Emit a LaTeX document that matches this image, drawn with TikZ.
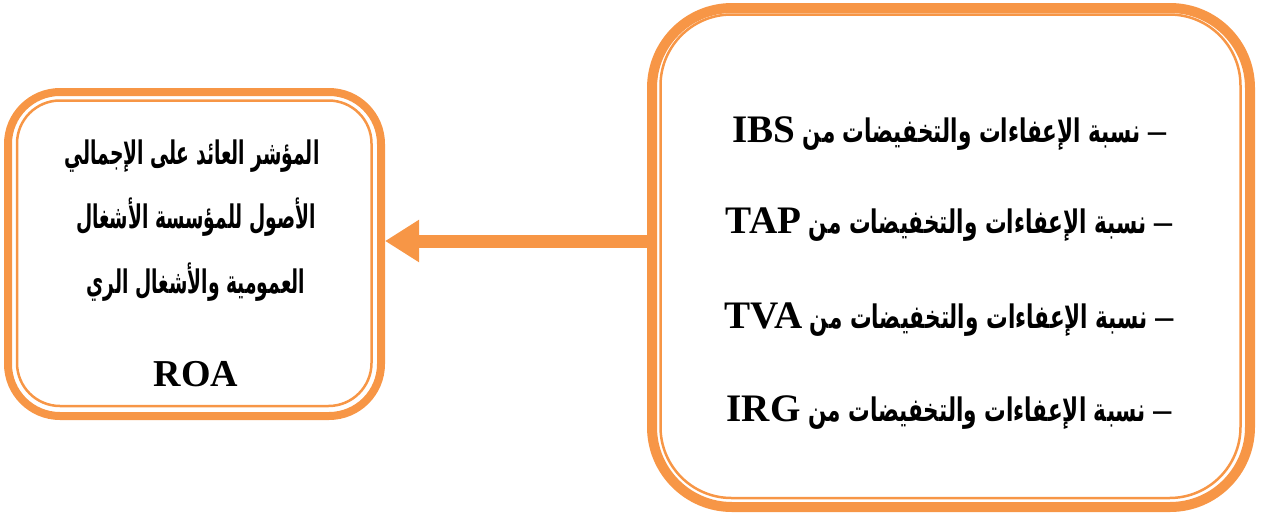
\documentclass[tikz,border=0pt]{standalone}
\usepackage{fontspec}
\usepackage{graphicx}
\setmainfont{Liberation Serif}
\newfontfamily\arabicfont[Script=Arabic]{DejaVu Sans}
\TeXXeTstate=1
\usetikzlibrary{arrows.meta}
\definecolor{accent}{HTML}{F79646}
% Latin abbreviations and the leading dash inside right-to-left lines;
% the inner scale undoes the condensing of the surrounding Arabic line
\newcommand{\lat}[1]{\beginL\scalebox{1.24}[0.82]{\rmfamily\bfseries\fontsize{38}{40}\selectfont #1}\endL}
\newcommand{\dashmark}{\beginL\scalebox{1.2}[0.8]{\rmfamily\bfseries\fontsize{36}{40}\selectfont –}\endL}
\tikzset{
  frame/.style={draw=accent, inner sep=0pt, outer sep=0pt},
  innerline/.style={draw=accent, line width=2.5pt},
  arrowline/.style={draw=accent, line width=13pt,
    -{Triangle[length=34pt, width=40pt]}},
  artext/.style={anchor=base, inner sep=0pt,
    font=\arabicfont\bfseries\fontsize{26}{30}\selectfont},
  romtext/.style={anchor=base, inner sep=0pt,
    font=\rmfamily\bfseries\fontsize{38}{40}\selectfont}
}
\begin{document}
\begin{tikzpicture}[x=1pt, y=-1pt]
\useasboundingbox (0,0) rectangle (1262,520);

% outer frames
\coordinate (lev) at (500,241);
\node[frame, line width=8pt, minimum width=373pt, minimum height=324pt,
      rounded corners=52pt] (L) at (194.5,254) {};
\node[frame, line width=10pt, minimum width=598pt, minimum height=499pt,
      rounded corners=80pt] (R) at (951,257.5) {};

% connecting arrow
\draw[arrowline] (R.west |- lev) -- ([xshift=4pt]L.east |- lev);

% inner thin borders
\draw[innerline, rounded corners=43pt]
  ([shift={(9pt,-8.5pt)}]L.north west) rectangle ([shift={(-9.5pt,10pt)}]L.south east);
\draw[innerline, rounded corners=71pt]
  ([shift={(8.5pt,-6.5pt)}]R.north west) rectangle ([shift={(-9.5pt,9pt)}]R.south east);

% left box text
\node[artext] (l1) at (192,164) {\scalebox{0.72}[1.25]{\beginR المؤشر العائد على الإجمالي\endR}};
\node[artext] (l2) at (196,228) {\scalebox{0.72}[1.25]{\beginR الأصول للمؤسسة الأشغال\endR}};
\node[artext] (l3) at (196,293) {\scalebox{0.72}[1.25]{\beginR العمومية والأشغال الري\endR}};
\node[romtext] (l4) at (196,386) {ROA};

% right box text
\node[artext] (r1) at (949,142) {\scalebox{0.83}[1.25]{\beginR \dashmark{} نسبة الإعفاءات والتخفيضات من \lat{IBS}\endR}};
\node[artext] (r2) at (949,233) {\scalebox{0.83}[1.25]{\beginR \dashmark{} نسبة الإعفاءات والتخفيضات من \lat{TAP}\endR}};
\node[artext] (r3) at (949,328) {\scalebox{0.83}[1.25]{\beginR \dashmark{} نسبة الإعفاءات والتخفيضات من \lat{TVA}\endR}};
\node[artext] (r4) at (949,421) {\scalebox{0.83}[1.25]{\beginR \dashmark{} نسبة الإعفاءات والتخفيضات من \lat{IRG}\endR}};
\end{tikzpicture}
\end{document}
